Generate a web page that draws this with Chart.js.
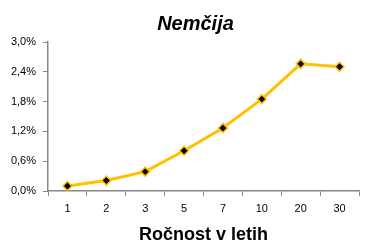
<!DOCTYPE html>
<html>
<head>
<meta charset="utf-8">
<script src="https://cdn.jsdelivr.net/npm/chart.js@4/dist/chart.umd.min.js"></script>
<style>
  html, body { margin: 0; padding: 0; background: #fff; }
  #wrap { width: 365px; height: 241px; position: relative; }
</style>
</head>
<body>
<div id="wrap"><canvas id="chart" width="365" height="241"></canvas></div>
<script>
// data
const chartTitle = "Nemčija";
const axisTitle = "Ročnost v letih";
const maturities = ["1", "2", "3", "5", "7", "10", "20", "30"];
const yields = [0.10, 0.21, 0.39, 0.81, 1.27, 1.85, 2.56, 2.50];
const yTicks = [0, 0.6, 1.2, 1.8, 2.4, 3.0];

const gold = "#FFC000";
const axisGray = "#868686";
const fontFamily = "'Liberation Sans', Arial, sans-serif";

// title centred over the plot area, a little left of it
const titlePlugin = {
  id: "plotTitle",
  afterDraw(chart) {
    const { ctx, chartArea } = chart;
    ctx.save();
    ctx.font = "italic bold 20px " + fontFamily;
    ctx.fillStyle = "#000";
    ctx.textAlign = "center";
    ctx.textBaseline = "alphabetic";
    ctx.fillText(chartTitle, (chartArea.left + chartArea.right) / 2 - 8, 30);
    ctx.restore();
  },
};

new Chart(document.getElementById("chart"), {
  type: "line",
  data: {
    labels: maturities,
    datasets: [
      {
        data: yields,
        borderColor: gold,
        borderWidth: 3,
        tension: 0,
        pointStyle: "rectRot",
        pointRadius: 4.5,
        pointBackgroundColor: "#000",
        pointBorderColor: gold,
        pointBorderWidth: 1.5,
        fill: false,
      },
    ],
  },
  options: {
    responsive: false,
    animation: false,
    layout: { padding: { top: 42, right: 1, left: 0, bottom: 0 } },
    plugins: { legend: { display: false }, tooltip: { enabled: false } },
    scales: {
      x: {
        offset: true,
        grid: { offset: true, drawOnChartArea: false, tickLength: 5, tickColor: axisGray, lineWidth: 1 },
        border: { color: axisGray, width: 1.5 },
        ticks: { color: "#000", padding: 6, font: { size: 11, family: fontFamily } },
        title: {
          display: true,
          text: axisTitle,
          color: "#000",
          padding: { top: 0, bottom: -3 },
          font: { size: 18, weight: "bold", lineHeight: 1, family: fontFamily },
        },
        afterFit(scale) { scale.height = 50; },
      },
      y: {
        min: 0,
        max: 3,
        afterBuildTicks(scale) { scale.ticks = yTicks.map((v) => ({ value: v })); },
        grid: { drawOnChartArea: false, tickLength: 5, tickColor: axisGray, lineWidth: 1 },
        border: { color: axisGray, width: 1.5 },
        ticks: {
          color: "#000",
          padding: 7,
          font: { size: 11, family: fontFamily },
          callback: (v) => v.toFixed(1).replace(".", ",") + "%",
        },
        afterFit(scale) { scale.width = 48; },
      },
    },
  },
  plugins: [titlePlugin],
});
</script>
</body>
</html>
